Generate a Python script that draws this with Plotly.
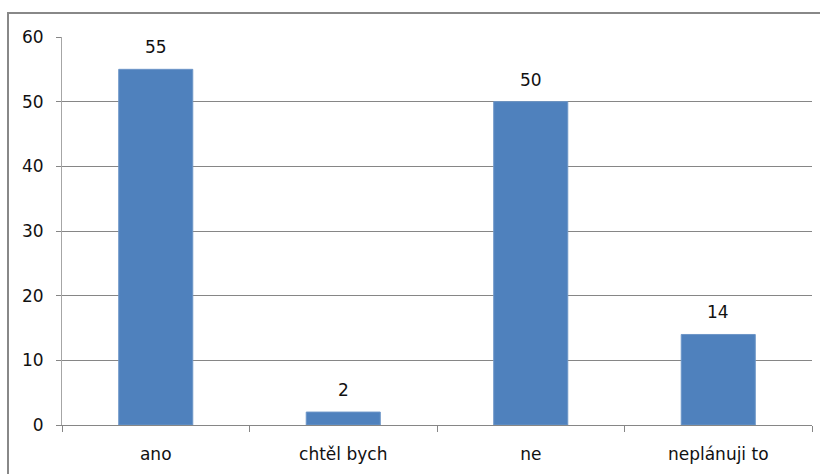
import plotly.graph_objects as go

# Survey answers and their counts
categories = ["ano", "chtěl bych", "ne", "neplánuji to"]
counts = [55, 2, 50, 14]
y_ticks = [0, 10, 20, 30, 40, 50, 60]

W, H = 820, 474
ML, MR, MT, MB = 62, 8, 37, 49
plot_w = W - ML - MR
plot_h = H - MT - MB

FONT = "DejaVu Sans"
GRID = "#868686"

fig = go.Figure(
    go.Bar(
        x=categories,
        y=counts,
        marker=dict(color="#4F81BD", line=dict(color="#6d96c8", width=1)),
        hoverinfo="skip",
    )
)

# Value labels above each bar
for cat, val in zip(categories, counts):
    fig.add_annotation(
        x=cat, y=val, text=str(val), showarrow=False,
        yanchor="bottom", yshift=10,
        font=dict(family=FONT, size=17, color="#111111"),
    )

# Outer chart frame (left and top edges sit inside the page)
fig.add_shape(
    type="rect", xref="paper", yref="paper",
    x0=(8 - ML) / plot_w, x1=(W + 10 - ML) / plot_w,
    y0=-(MB + 20) / plot_h, y1=1 + (MT - 13) / plot_h,
    line=dict(color="#888888", width=2), fillcolor="rgba(0,0,0,0)",
    layer="below",
)

fig.update_layout(
    width=W, height=H,
    margin=dict(l=ML, r=MR, t=MT, b=MB, pad=0),
    paper_bgcolor="white", plot_bgcolor="white",
    bargap=0.605,
    showlegend=False,
    font=dict(family=FONT, size=17, color="#111111"),
    xaxis=dict(
        type="category",
        tickson="boundaries",
        ticks="outside", ticklen=6, tickcolor=GRID, tickwidth=1,
        showline=True, linecolor=GRID, linewidth=1,
        showgrid=False,
        ticklabelstandoff=14,
        tickfont=dict(family=FONT, size=17, color="#111111"),
    ),
    yaxis=dict(
        range=[0, 60],
        tickvals=y_ticks,
        ticks="outside", ticklen=5, tickcolor=GRID, tickwidth=1,
        showline=True, linecolor="#a6a6a6", linewidth=1,
        showgrid=True, gridcolor=GRID, gridwidth=1,
        zeroline=True, zerolinecolor=GRID, zerolinewidth=1,
        ticklabelstandoff=9,
        tickfont=dict(family=FONT, size=17, color="#111111"),
    ),
)

fig.write_html("out.html")
